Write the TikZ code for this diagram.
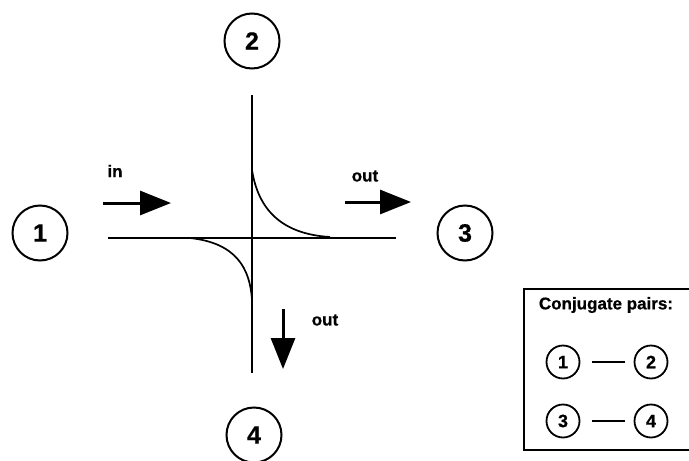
\documentclass[tikz,border=0pt]{standalone}
\usepackage{fontspec}
\setmainfont[FakeBold=0.6]{Liberation Sans}
\usetikzlibrary{arrows.meta}
\begin{document}
\begin{tikzpicture}[x=1pt,y=-1pt,
  port/.style={circle,draw,line width=2pt,minimum size=55pt,inner sep=0pt,font=\fontsize{25}{25}\bfseries},
  small/.style={circle,draw,line width=1.8pt,minimum size=33pt,inner sep=0pt,font=\fontsize{18}{18}\bfseries},
  axis/.style={line width=2pt},
  curve/.style={line width=1.7pt},
  flow/.style={line width=3pt,-{Triangle[length=31pt,width=24pt]}},
  lbl/.style={font=\fontsize{17}{17}\bfseries,inner sep=0pt}]
\useasboundingbox (0,0) rectangle (689,461);
% ports
\node[port] (n1) at (40,233) {1};
\node[port] (n2) at (252,41) {2};
\node[port] (n3) at (465,233) {3};
\node[port] (n4) at (254,435) {4};
% axes
\coordinate (hl) at (108,238);
\coordinate (hr) at (396,238);
\coordinate (vt) at (252,95);
\coordinate (vb) at (252,373);
\draw[axis] (hl) -- (hr);
\draw[axis] (vt) -- (vb);
% curves
\draw[curve] (252,170) .. controls (258,208) and (280,234) .. (330,237);
\draw[curve] (190,238) .. controls (236,243) and (250,268) .. (252,300);
% arrows
\coordinate (ia) at (103,203);
\coordinate (ib) at (171,203);
\coordinate (oa) at (345,202);
\coordinate (ob) at (411,202);
\coordinate (da) at (283,309);
\coordinate (db) at (283,369);
\draw[flow] (ia) -- (ib);
\draw[flow] (oa) -- (ob);
\draw[flow] (da) -- (db);
\node[lbl] (tin) at (115,171) {in};
\node[lbl] (tout1) at (365,176) {out};
\node[lbl] (tout2) at (325,320) {out};
% legend box
\draw[line width=2pt] (692,289) -- (524,289) -- (524,450) -- (692,450);
\node[font=\fontsize{17}{17}\bfseries,inner sep=0pt] (title) at (606,305) {Conjugate pairs:};
\node[small] (s1) at (563,362) {1};
\node[small] (s2) at (651,362) {2};
\node[small] (s3) at (563,421) {3};
\node[small] (s4) at (651,421) {4};
\draw[line width=2.2pt,shorten <=12pt,shorten >=9pt] (s1) -- (s2);
\draw[line width=2.2pt,shorten <=12pt,shorten >=9pt] (s3) -- (s4);
\end{tikzpicture}
\end{document}
